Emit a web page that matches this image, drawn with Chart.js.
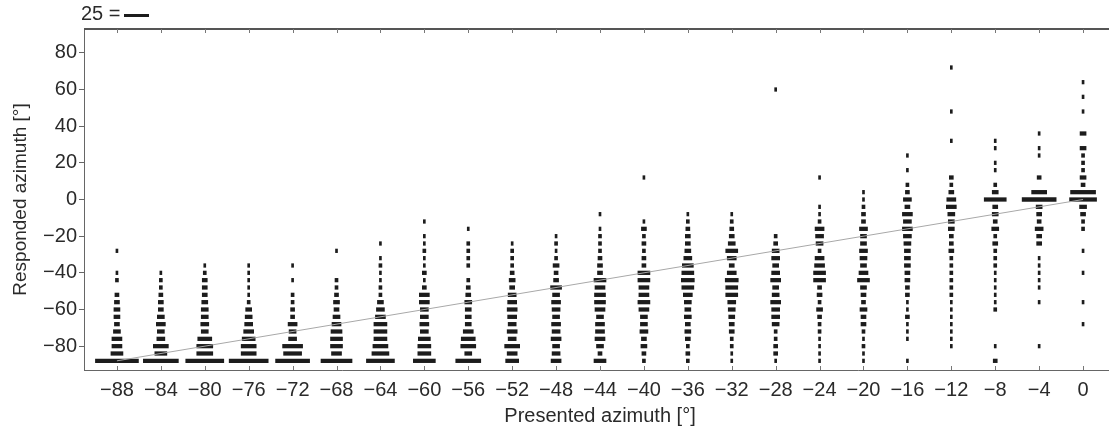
<!DOCTYPE html>
<html>
<head>
<meta charset="utf-8">
<script src="https://cdn.jsdelivr.net/npm/chart.js@4/dist/chart.umd.min.js"></script>
<style>
html,body{margin:0;padding:0;background:#fff;overflow:hidden}
#wrap{position:relative;width:1120px;height:428px}
</style>
</head>
<body>
<div id="wrap"><canvas id="c"></canvas></div>
<script>
// ---- data ----
const presentedAzimuths = [-88,-84,-80,-76,-72,-68,-64,-60,-56,-52,-48,-44,-40,-36,-32,-28,-24,-20,-16,-12,-8,-4,0];
const responseBins = [-88,-84,-80,-76,-72,-68,-64,-60,-56,-52,-48,-44,-40,-36,-32,-28,-24,-20,-16,-12,-8,-4,0,4,8,12,16,20,24,28,32,36,40,44,48,52,56,60,64,68,72,76,80,84,88];
const yTickValues = [-80,-60,-40,-20,0,20,40,60,80];
const legendCount = 25;

// response counts per presented azimuth, listed from the -88° response bin upward
const counts_m88 = [43,12,10,10,7,5,6,6,5,4,0,3,2,0,0,2];
const counts_m84 = [35,12,15,8,7,9,7,5,5,4,3,3,2];
const counts_m80 = [38,16,16,14,7,8,7,7,6,5,5,5,3,2];
const counts_m76 = [39,15,15,13,10,8,7,6,3,2,2,2,2,2];
const counts_m72 = [34,18,20,8,7,9,4,4,3,3,0,2,0,2];
const counts_m68 = [31,10,12,12,11,9,7,5,6,4,3,3,0,0,0,2];
const counts_m64 = [28,17,15,13,13,13,10,8,6,3,3,2,2,3,2,0,2];
const counts_m60 = [22,13,13,12,8,9,8,8,10,10,4,2,4,2,2,3,2,2,0,2];
const counts_m56 = [25,7,15,14,10,6,6,6,7,5,4,3,0,3,3,3,3,0,2];
const counts_m52 = [13,10,15,8,10,8,9,10,9,8,5,6,4,3,3,3,2];
const counts_m48 = [10,8,7,10,8,9,7,8,9,7,11,5,4,6,3,2,3,2];
const counts_m44 = [12,4,7,10,9,9,7,10,11,11,10,12,5,5,4,3,3,3,2,0,2];
const counts_m40 = [3,4,6,5,8,7,7,10,12,10,10,12,12,4,4,3,4,3,5,2,0,0,0,0,0,2];
const counts_m36 = [3,4,3,5,6,5,7,6,7,9,12,13,12,11,8,6,5,5,4,3,2];
const counts_m32 = [2,2,3,3,5,5,6,7,8,12,12,13,9,5,9,12,7,5,4,3,2];
const counts_m28 = [2,4,4,3,3,7,8,8,10,7,6,10,8,6,8,7,4,3,0,0,0,0,0,0,0,0,0,0,0,0,0,0,0,0,0,0,0,2];
const counts_m24 = [2,2,2,2,3,3,4,6,3,5,4,12,12,10,9,3,7,8,9,3,2,2,0,0,0,2];
const counts_m20 = [2,2,3,2,3,5,5,7,4,5,6,12,9,6,7,8,6,6,8,4,4,3,2,2];
const counts_m16 = [2,0,0,2,2,2,4,2,2,4,4,5,5,6,6,6,7,8,10,8,10,5,8,4,3,0,2,0,2];
const counts_m12 = [0,0,2,2,2,2,2,2,2,3,3,3,3,3,3,5,4,4,6,6,7,10,9,5,3,4,0,0,0,0,2,0,0,0,2,0,0,0,0,0,2];
const counts_m8  = [4,0,2,0,0,0,0,3,2,2,2,2,2,3,3,3,5,3,7,4,6,5,22,6,3,0,2,2,0,2,2];
const counts_m4  = [0,0,2,0,0,0,0,0,2,0,2,2,2,2,2,0,5,5,8,4,5,6,34,15,0,4,0,0,2,2,0,2];
const counts_0   = [0,0,0,0,0,2,0,0,2,0,0,0,2,0,0,2,0,0,3,3,5,7,27,25,4,6,3,3,3,6,0,6,0,0,2,0,2,0,2];

const countsByColumn = [counts_m88,counts_m84,counts_m80,counts_m76,counts_m72,counts_m68,counts_m64,counts_m60,
  counts_m56,counts_m52,counts_m48,counts_m44,counts_m40,counts_m36,counts_m32,counts_m28,counts_m24,counts_m20,
  counts_m16,counts_m12,counts_m8,counts_m4,counts_0];

// ---- styling ----
const FONT = "'Liberation Sans', Arial, Helvetica, sans-serif";
const TXT = '#2a2a2a';
const AXIS = '#666';
const DEG_PER_COUNT = 0.0911;   // horizontal extent (in x units) of one response

const fmt = v => (v < 0 ? '\u2212' + Math.abs(v) : String(v));

const barDatasets = presentedAzimuths.map((az, i) => {
  const data = [];
  countsByColumn[i].forEach((n, j) => {
    if (n > 0) {
      const half = n * DEG_PER_COUNT / 2;
      data.push({ y: responseBins[j], x: [az - half, az + half] });
    }
  });
  return {
    type: 'bar',
    data,
    backgroundColor: '#1c1c1c',
    borderWidth: 0,
    barThickness: 3.6,
    grouped: false,
    order: 2
  };
});

const diagonal = {
  type: 'line',
  data: [{ x: presentedAzimuths[0], y: presentedAzimuths[0] }, { x: presentedAzimuths[presentedAzimuths.length - 1], y: presentedAzimuths[presentedAzimuths.length - 1] }],
  borderColor: '#a8a8a8',
  borderWidth: 1,
  pointRadius: 0,
  fill: false,
  order: 0
};

const framePlugin = {
  id: 'frame',
  afterDraw(chart) {
    const { ctx, chartArea: a, scales: { x } } = chart;
    ctx.save();
    // top border
    ctx.strokeStyle = '#555';
    ctx.lineWidth = 2;
    ctx.beginPath();
    ctx.moveTo(a.left, a.top);
    ctx.lineTo(a.right, a.top);
    ctx.stroke();
    // inward tick marks top & bottom
    ctx.strokeStyle = '#777';
    ctx.lineWidth = 1;
    presentedAzimuths.forEach(v => {
      const px = Math.round(x.getPixelForValue(v)) + 0.5;
      ctx.beginPath();
      ctx.moveTo(px, a.top); ctx.lineTo(px, a.top + 4);
      ctx.moveTo(px, a.bottom); ctx.lineTo(px, a.bottom - 4);
      ctx.stroke();
    });
    // legend "25 = ▬"
    ctx.fillStyle = TXT;
    ctx.font = '20px ' + FONT;
    ctx.textBaseline = 'middle';
    ctx.textAlign = 'left';
    ctx.fillText(legendCount + ' =', a.left - 3, 14);
    const w = x.getPixelForValue(legendCount * DEG_PER_COUNT) - x.getPixelForValue(0);
    ctx.fillStyle = '#1c1c1c';
    ctx.fillRect(a.left + 40, 14, w, 3);
    ctx.restore();
  }
};

new Chart(document.getElementById('c'), {
  type: 'bar',
  data: { datasets: [...barDatasets, diagonal] },
  options: {
    responsive: true,
    maintainAspectRatio: false,
    animation: false,
    indexAxis: 'y',
    layout: { padding: { left: 0, right: 4, top: 29, bottom: 0 } },
    plugins: { legend: { display: false }, tooltip: { enabled: false } },
    scales: {
      x: {
        type: 'linear',
        min: -91, max: 3,
        offset: false,
        afterBuildTicks: s => { s.ticks = presentedAzimuths.map(v => ({ value: v })); },
        afterFit: s => { s.height = 58; },
        grid: { offset: false, drawOnChartArea: false, drawTicks: false, color: AXIS },
        border: { display: true, color: AXIS, width: 1 },
        ticks: { padding: 8, autoSkip: false, maxRotation: 0, color: TXT, font: { family: FONT, size: 20 }, callback: v => fmt(v) },
        title: { display: true, text: 'Presented azimuth [°]', color: TXT, font: { family: FONT, size: 20 }, padding: { top: 0, bottom: 0 } }
      },
      y: {
        type: 'linear',
        min: -93, max: 93,
        offset: false,
        afterBuildTicks: s => { s.ticks = yTickValues.map(v => ({ value: v })); },
        afterFit: s => { s.width = 84; },
        grid: { offset: false, drawOnChartArea: false, tickLength: 5, color: AXIS },
        border: { display: true, color: AXIS, width: 1 },
        ticks: { padding: 2, color: TXT, font: { family: FONT, size: 20 }, callback: v => fmt(v) },
        title: { display: true, text: 'Responded azimuth [°]', color: TXT, font: { family: FONT, size: 19 }, padding: { top: 9, bottom: 0 } }
      }
    }
  },
  plugins: [framePlugin]
});
</script>
</body>
</html>
